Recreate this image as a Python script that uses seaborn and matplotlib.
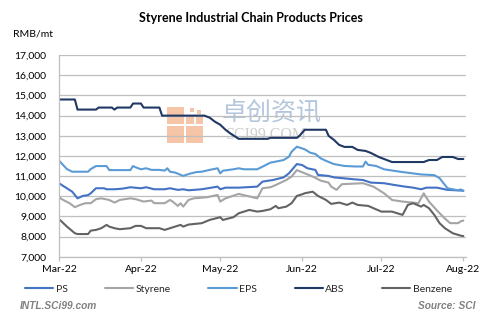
import matplotlib
matplotlib.use("Agg")
import matplotlib.pyplot as plt
import matplotlib.dates as mdates
import matplotlib.ticker as mticker
from matplotlib.patches import Rectangle
import pandas as pd
import seaborn as sns

series_names = ["PS", "Styrene", "EPS", "ABS", "Benzene"]
series_colors = ["#4472C4", "#A5A5A5", "#5B9BD5", "#203864", "#636363"]

ps_dates = ["2022-03-01", "2022-03-03", "2022-03-06", "2022-03-08", "2022-03-10", "2022-03-12", "2022-03-13",
            "2022-03-15", "2022-03-18", "2022-03-19", "2022-03-22", "2022-03-25", "2022-03-28", "2022-04-01",
            "2022-04-03", "2022-04-06", "2022-04-10", "2022-04-12", "2022-04-15", "2022-04-17", "2022-04-19",
            "2022-04-24", "2022-04-30", "2022-05-01", "2022-05-03", "2022-05-08", "2022-05-15", "2022-05-17",
            "2022-05-21", "2022-05-25", "2022-05-27", "2022-05-30", "2022-06-01", "2022-06-03", "2022-06-06",
            "2022-06-07", "2022-06-11", "2022-06-13", "2022-06-17", "2022-06-21", "2022-06-24", "2022-06-27",
            "2022-07-02", "2022-07-06", "2022-07-10", "2022-07-13", "2022-07-16", "2022-07-18", "2022-07-22",
            "2022-07-26", "2022-08-01"]
ps_values = [10650, 10480, 10230, 9900, 10020, 10060, 10150,
             10400, 10400, 10350, 10350, 10380, 10450, 10400,
             10450, 10350, 10350, 10400, 10320, 10350, 10300,
             10350, 10480, 10350, 10430, 10430, 10480, 10730,
             10810, 10940, 11140, 11600, 11550, 11390, 11310,
             11060, 11010, 10940, 10890, 10840, 10810, 10680,
             10650, 10560, 10480, 10430, 10350, 10430, 10430,
             10320, 10280]

styrene_dates = ["2022-03-01", "2022-03-02", "2022-03-05", "2022-03-07", "2022-03-09", "2022-03-11", "2022-03-13",
                 "2022-03-15", "2022-03-17", "2022-03-20", "2022-03-22", "2022-03-24", "2022-03-28", "2022-03-30",
                 "2022-04-02", "2022-04-05", "2022-04-06", "2022-04-10", "2022-04-12", "2022-04-13", "2022-04-15",
                 "2022-04-16", "2022-04-17", "2022-04-19", "2022-04-21", "2022-04-26", "2022-04-30", "2022-05-01",
                 "2022-05-03", "2022-05-08", "2022-05-15", "2022-05-17", "2022-05-20", "2022-05-22", "2022-05-26",
                 "2022-05-28", "2022-05-30", "2022-06-02", "2022-06-05", "2022-06-08", "2022-06-11", "2022-06-12",
                 "2022-06-14", "2022-06-16", "2022-06-24", "2022-06-28", "2022-07-02", "2022-07-05", "2022-07-09",
                 "2022-07-15", "2022-07-17", "2022-07-19", "2022-07-22", "2022-07-25", "2022-07-27", "2022-07-30",
                 "2022-07-31", "2022-08-01"]
styrene_values = [9985, 9860, 9660, 9460, 9575, 9660, 9660,
                  9860, 9900, 9820, 9690, 9820, 9900, 9860,
                  9740, 9790, 9660, 9660, 9820, 9740, 9525,
                  9660, 9490, 9820, 9900, 9955, 10070, 9740,
                  9900, 10120, 9900, 10400, 10450, 10560, 10810,
                  10980, 11300, 11140, 10980, 10780, 10680, 10480,
                  10320, 10600, 10650, 10480, 10150, 9820, 9740,
                  9660, 10150, 9740, 9300, 8900, 8670, 8670,
                  8760, 8800]

eps_dates = ["2022-03-01", "2022-03-04", "2022-03-06", "2022-03-12", "2022-03-13", "2022-03-15", "2022-03-19",
             "2022-03-20", "2022-03-28", "2022-03-29", "2022-03-30", "2022-04-01", "2022-04-03", "2022-04-05",
             "2022-04-08", "2022-04-10", "2022-04-11", "2022-04-12", "2022-04-14", "2022-04-17", "2022-04-18",
             "2022-04-20", "2022-04-22", "2022-04-24", "2022-04-27", "2022-04-30", "2022-05-01", "2022-05-02",
             "2022-05-06", "2022-05-08", "2022-05-10", "2022-05-15", "2022-05-17", "2022-05-20", "2022-05-22",
             "2022-05-25", "2022-05-27", "2022-05-28", "2022-05-30", "2022-06-02", "2022-06-04", "2022-06-06",
             "2022-06-08", "2022-06-10", "2022-06-13", "2022-06-17", "2022-06-21", "2022-06-24", "2022-06-25",
             "2022-06-26", "2022-06-29", "2022-07-02", "2022-07-08", "2022-07-16", "2022-07-21", "2022-07-23",
             "2022-07-26", "2022-07-30", "2022-07-31", "2022-08-01"]
eps_values = [11770, 11350, 11220, 11220, 11350, 11500, 11500,
              11300, 11300, 11500, 11440, 11340, 11390, 11310,
              11310, 11275, 11390, 11220, 11175, 11010, 11060,
              11140, 11200, 11220, 11310, 11390, 11140, 11270,
              11340, 11390, 11340, 11340, 11470, 11670, 11720,
              11800, 11965, 12210, 12460, 12330, 12165, 12100,
              11885, 11760, 11600, 11505, 11480, 11480, 11720,
              11560, 11505, 11340, 11220, 11085, 11050, 10900,
              10400, 10300, 10340, 10270]

abs_dates = ["2022-03-01", "2022-03-07", "2022-03-08", "2022-03-15", "2022-03-16", "2022-03-21", "2022-03-22",
             "2022-03-23", "2022-03-28", "2022-03-29", "2022-04-01", "2022-04-02", "2022-04-08", "2022-04-09",
             "2022-04-25", "2022-04-27", "2022-04-29", "2022-05-01", "2022-05-03", "2022-05-05", "2022-05-08",
             "2022-05-19", "2022-05-20", "2022-05-30", "2022-05-31", "2022-06-02", "2022-06-10", "2022-06-11",
             "2022-06-13", "2022-06-15", "2022-06-17", "2022-06-20", "2022-06-22", "2022-06-25", "2022-06-27",
             "2022-06-30", "2022-07-03", "2022-07-05", "2022-07-17", "2022-07-19", "2022-07-22", "2022-07-24",
             "2022-07-28", "2022-07-30", "2022-08-01"]
abs_values = [14800, 14800, 14300, 14300, 14400, 14400, 14300,
              14400, 14400, 14600, 14600, 14400, 14400, 14000,
              14000, 13900, 13700, 13550, 13300, 13100, 12850,
              12850, 12900, 12900, 13000, 13300, 13300, 13000,
              12800, 12550, 12450, 12450, 12300, 12250, 12150,
              11950, 11800, 11700, 11700, 11800, 11800, 11950,
              11950, 11850, 11850]

benzene_dates = ["2022-03-01", "2022-03-02", "2022-03-04", "2022-03-07", "2022-03-08", "2022-03-12", "2022-03-13",
                 "2022-03-15", "2022-03-17", "2022-03-19", "2022-03-20", "2022-03-22", "2022-03-24", "2022-03-28",
                 "2022-03-30", "2022-04-01", "2022-04-03", "2022-04-08", "2022-04-10", "2022-04-12", "2022-04-16",
                 "2022-04-17", "2022-04-19", "2022-04-24", "2022-04-27", "2022-05-01", "2022-05-02", "2022-05-06",
                 "2022-05-08", "2022-05-10", "2022-05-12", "2022-05-15", "2022-05-17", "2022-05-20", "2022-05-22",
                 "2022-05-23", "2022-05-26", "2022-05-28", "2022-05-30", "2022-06-01", "2022-06-02", "2022-06-05",
                 "2022-06-07", "2022-06-10", "2022-06-12", "2022-06-15", "2022-06-18", "2022-06-20", "2022-06-22",
                 "2022-06-26", "2022-06-28", "2022-07-01", "2022-07-05", "2022-07-07", "2022-07-09", "2022-07-11",
                 "2022-07-13", "2022-07-16", "2022-07-17", "2022-07-19", "2022-07-21", "2022-07-23", "2022-07-25",
                 "2022-07-28", "2022-07-31", "2022-08-01"]
benzene_values = [8866, 8750, 8500, 8170, 8130, 8130, 8300,
                  8335, 8420, 8584, 8500, 8420, 8370, 8420,
                  8535, 8535, 8420, 8420, 8335, 8420, 8584,
                  8500, 8600, 8668, 8830, 8965, 8830, 8965,
                  9160, 9243, 9325, 9243, 9276, 9360, 9525,
                  9410, 9490, 9658, 10020, 10100, 10153, 10230,
                  10020, 9822, 9625, 9690, 9574, 9690, 9574,
                  9525, 9410, 9243, 9243, 9160, 9080, 9574,
                  9658, 9490, 9574, 9410, 9080, 8668, 8420,
                  8170, 8050, 8030]

y_ticks = [7000, 8000, 9000, 10000, 11000, 12000, 13000, 14000, 15000, 16000, 17000]
x_ticks = ["2022-03-01", "2022-04-01", "2022-05-01", "2022-06-01", "2022-07-01", "2022-08-01"]

frames = []
for name, d, v in zip(series_names,
                      [ps_dates, styrene_dates, eps_dates, abs_dates, benzene_dates],
                      [ps_values, styrene_values, eps_values, abs_values, benzene_values]):
    frames.append(pd.DataFrame({"date": pd.to_datetime(d), "price": v, "series": name}))
df = pd.concat(frames, ignore_index=True)

sns.set_theme(style="white")
plt.rcParams["font.family"] = ["Lato", "DejaVu Sans"]

fig = plt.figure(figsize=(5, 3.34), dpi=100)
ax = fig.add_axes([0.118, 0.231, 0.814, 0.604])

sns.lineplot(data=df, x="date", y="price", hue="series", hue_order=series_names,
             palette=series_colors, linewidth=1.5, estimator=None, ax=ax)

# watermark behind the lines
ax.text(272 / 500, 1 - 112 / 334, "卓创资讯", transform=fig.transFigure, ha="center", va="center",
        fontsize=18, color="#B3C6DD", family=["Noto Sans CJK SC"], zorder=0.1)
ax.text(266 / 500, 1 - 135 / 334, "SCI99.COM", transform=fig.transFigure, ha="center", va="center",
        fontsize=11.5, color="#CFCFCF", family=["Liberation Serif"], zorder=0.1)
logo_color = "#F6C4A6"
for (x0, y0, w, h) in [(167, 107, 17, 17), (167, 126, 17, 17), (186, 126, 17, 17),
                       (186, 116, 8, 8), (196, 116, 7, 8), (190, 108, 4, 4), (197, 110, 4, 4)]:
    ax.add_patch(Rectangle((x0 / 500, 1 - (y0 + h) / 334), w / 500, h / 334,
                           transform=fig.transFigure, color=logo_color, lw=0, zorder=0.1))

ax.set_ylim(7000, 17000)
ax.set_yticks(y_ticks)
ax.yaxis.set_major_formatter(mticker.FuncFormatter(lambda v, p: f"{v:,.0f}"))
ax.set_xlim(pd.Timestamp("2022-03-01"), pd.Timestamp("2022-08-02"))
ax.set_xticks(pd.to_datetime(x_ticks))
ax.xaxis.set_major_formatter(mdates.DateFormatter("%b-%y"))
ax.set_xlabel("")
ax.set_ylabel("")

ax.yaxis.grid(True, color="#BFBFBF", linewidth=0.9)
ax.xaxis.grid(False)
ax.set_axisbelow(True)
for s in ["top", "right"]:
    ax.spines[s].set_visible(False)
for s in ["left", "bottom"]:
    ax.spines[s].set_color("#BFBFBF")
    ax.spines[s].set_linewidth(0.9)
ax.tick_params(axis="x", direction="out", length=3, width=0.9, color="#BFBFBF", pad=3,
               labelsize=7.5, labelcolor="#000000", bottom=True)
ax.tick_params(axis="y", length=0, pad=9, labelsize=7.5, labelcolor="#000000")

sns.move_legend(ax, "center", bbox_to_anchor=(0.477, 0.135), bbox_transform=fig.transFigure,
                ncol=5, frameon=False, title=None, fontsize=7.5, handlelength=2.7,
                handletextpad=0.25, columnspacing=3.6)

fig.text(251 / 500, 1 - 18 / 334, "Styrene Industrial Chain Products Prices", ha="center", va="center",
         fontsize=9, fontweight="bold", color="#000000")
fig.text(13 / 500, 1 - 34 / 334, "RMB/mt", ha="left", va="center", fontsize=7.5, color="#000000")
fig.text(20 / 500, 1 - 306 / 334, "INTL.SCi99.com", ha="left", va="center", fontsize=7.3,
         fontweight="bold", fontstyle="italic", color="#808080", family=["Liberation Sans"])
fig.text(475 / 500, 1 - 306 / 334, "Source: SCI", ha="right", va="center", fontsize=7.3,
         fontweight="bold", fontstyle="italic", color="#808080", family=["Liberation Sans"])

fig.savefig("out.png", dpi=100)
